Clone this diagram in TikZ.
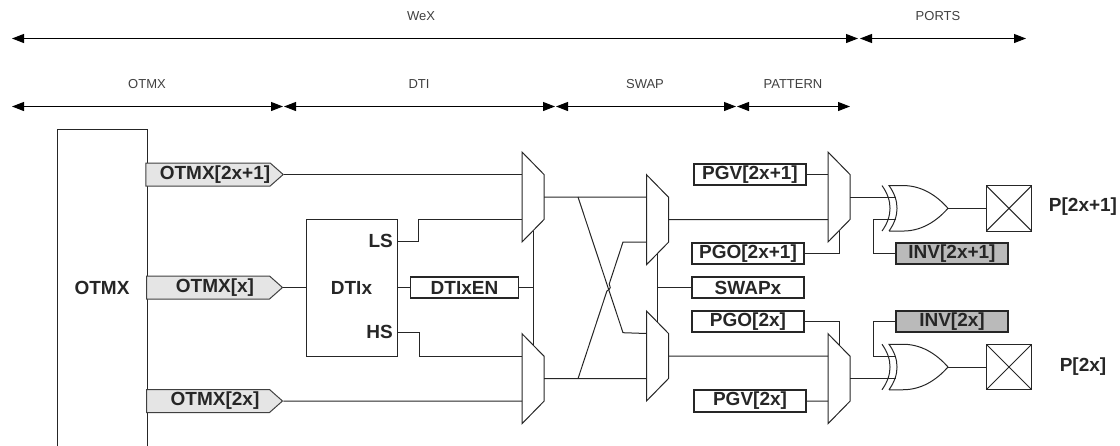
\documentclass[tikz,border=0pt]{standalone}
\usepackage{fontspec}
\setmainfont{Liberation Sans}
\usetikzlibrary{arrows.meta,shapes.symbols}
\tikzset{lbl/.style = {font=\bfseries\fontsize{19}{21}\selectfont, text=black!85, inner sep=0pt},
  toplbl/.style = {font=\fontsize{13}{15}\selectfont, text=black!75, inner sep=0pt},
  span/.style = {<->, >={Triangle[length=12pt,width=9pt]}, line width=1pt},
  wire/.style = {line width=1pt, black!85},
  regbox/.style = {lbl, draw, line width=1.7pt, black!85, rectangle, minimum width=112pt, minimum height=21.5pt},
  invbox/.style = {regbox, fill=black!27},
  flag/.style = {lbl, draw=black!75, line width=1pt, fill=black!10, signal, signal to=east, signal pointer angle=83,
    minimum width=136pt, minimum height=23pt, execute at begin node={\hspace*{14pt}}},
  mux/.style = {rectangle, inner sep=0pt, outer sep=0pt, minimum width=22pt, minimum height=90pt},
  xorgate/.style = {rectangle, inner sep=0pt, outer sep=0pt, minimum width=66pt, minimum height=45.5pt},
  pad/.style = {draw, wire, rectangle, minimum size=45.5pt, inner sep=0pt,
    path picture={\draw[wire] (path picture bounding box.north west) -- (path picture bounding box.south east)
      (path picture bounding box.north east) -- (path picture bounding box.south west);}}}

\begin{document}
\begin{tikzpicture}[x=1pt, y=-1pt]
  \useasboundingbox (0,0) rectangle (1120,445);

  % section spans
  \coordinate (a1) at (12,38.5);  \coordinate (a2) at (858,38.5);
  \coordinate (a3) at (860,38.5); \coordinate (a4) at (1026,38.5);
  \coordinate (b1) at (12,106.5);  \coordinate (b2) at (283,106.5);
  \coordinate (b3) at (284,106.5); \coordinate (b4) at (555,106.5);
  \coordinate (b5) at (556,106.5); \coordinate (b6) at (736,106.5);
  \coordinate (b7) at (737,106.5); \coordinate (b8) at (850,106.5);
  \draw[span] (a1) -- (a2);
  \draw[span] (a3) -- (a4);
  \draw[span] (b1) -- (b2);
  \draw[span] (b3) -- (b4);
  \draw[span] (b5) -- (b6);
  \draw[span] (b7) -- (b8);
  \node[toplbl] (twex) at (421,16) {WeX};
  \node[toplbl] (tports) at (938,16) {PORTS};
  \node[toplbl] (totmx) at (147,84) {OTMX};
  \node[toplbl] (tdti) at (419,84) {DTI};
  \node[toplbl] (tswap) at (645,84) {SWAP};
  \node[toplbl] (tpattern) at (793,84) {PATTERN};

  % blocks
  \node[lbl, draw, wire, rectangle, minimum width=90pt, minimum height=318pt] (otmx) at (102,288) {OTMX};
  \node[flag] (fa) at (208,174.5) {OTMX[2x+1]};
  \node[flag] (fb) at (208,287.5) {OTMX[x]};
  \node[flag] (fc) at (208,401) {OTMX[2x]};
  \node[lbl, draw, wire, rectangle, minimum width=91pt, minimum height=137pt] (dti) at (351.5,287.5) {DTIx};
  \node[lbl, anchor=east] (ls) at (393,241) {LS};
  \node[lbl, anchor=east] (hs) at (393,332) {HS};
  \node[regbox, minimum width=108pt] (dtien) at (464.5,287.5) {DTIxEN};

  \node[mux] (m1) at (533,197) {};
  \node[mux] (m2) at (533,378.7) {};
  \node[mux] (m3) at (657.5,219.7) {};
  \node[mux] (m4) at (657.5,356) {};
  \node[mux] (m5) at (839,197) {};
  \node[mux] (m6) at (839,378.7) {};
  \foreach \m in {m1,m2,m3,m4,m5,m6}
    \draw[wire] (\m.north west) -- ([yshift=-22.5pt]\m.north east) -- ([yshift=22.5pt]\m.south east)
      -- (\m.south west) -- cycle;

  \node[regbox] (pgva) at (750,174.5) {PGV[2x+1]};
  \node[regbox] (pgoa) at (748,253.5) {PGO[2x+1]};
  \node[regbox] (swap) at (748,287.5) {SWAPx};
  \node[regbox] (pgob) at (748,321.5) {PGO[2x]};
  \node[regbox] (pgvb) at (750,401) {PGV[2x]};

  \node[xorgate] (xa) at (915,208.3) {};
  \node[xorgate] (xb) at (915,367) {};
  \foreach \g in {xa,xb}
    \draw[wire] (\g.north west) .. controls +(10.7,15) and +(10.7,-15) .. (\g.south west)
      ([xshift=7pt]\g.south west) -- ([xshift=21pt]\g.south west) .. controls +(22,0) and +(-8,9) .. (\g.east)
      .. controls +(-8,-9) and +(22,0) .. ([xshift=21pt]\g.north west) -- ([xshift=7pt]\g.north west)
      .. controls +(10.7,15) and +(10.7,-15) .. ([xshift=7pt]\g.south west);
  \node[invbox] (inva) at (952,253.5) {INV[2x+1]};
  \node[invbox] (invb) at (952,321.5) {INV[2x]};
  \node[pad] (pa) at (1009,208.3) {};
  \node[pad] (pb) at (1009,367) {};
  \node[lbl] (pta) at (1083,207) {P[2x+1]};
  \node[lbl] (ptb) at (1083,367) {P[2x]};

  % connections
  \draw[wire] (fa.east) -- ([yshift=22.5pt]m1.west);
  \draw[wire] (fb.east) -- (dti.west);
  \draw[wire] (fc.east) -- ([yshift=-22.5pt]m2.west);
  \draw[wire] (dti.east |- ls) -- ++(21,0) |- ([yshift=-22.5pt]m1.west);
  \draw[wire] (dti.east |- hs) -- ++(22,0) |- ([yshift=22.5pt]m2.west);
  \draw[wire] (dti.east) -- (dtien.west);
  \draw[wire] (dtien.east) -- (dtien.east -| m1.south);
  \draw[wire] ([yshift=11pt]m1.south) -- ([yshift=-11pt]m2.north);

  \coordinate (ca) at (578,197);
  \coordinate (cb) at (623,332.7);
  \coordinate (cc) at (578,378.7);
  \coordinate (cd) at (623,242);
  \coordinate (ce) at (606.9,291);
  \coordinate (cf) at (609.2,284);
  \draw[wire] (m1.east) -- ([yshift=22.5pt]m3.west);
  \draw[wire] (m2.east) -- ([yshift=-22.5pt]m4.west);
  \draw[wire] (ca) -- (cb) -- ([yshift=22.5pt]m4.west);
  \draw[wire] (cc) -- (ce) .. controls (611,289) and (611,286) .. (cf) -- (cd) -- ([yshift=-22.5pt]m3.west);
  \draw[wire] ([yshift=11pt]m3.south) -- ([yshift=-11pt]m4.north);
  \draw[wire] (swap.west) -- (swap.west -| m3.south);

  \draw[wire] (m3.east) -- ([yshift=-22.5pt]m5.west);
  \draw[wire] (m4.east) -- ([yshift=22.5pt]m6.west);
  \draw[wire] (pgva.east) -- ([yshift=22.5pt]m5.west);
  \draw[wire] (pgvb.east) -- ([yshift=-22.5pt]m6.west);
  \draw[wire] (pgoa.east) -| ([yshift=11pt]m5.south);
  \draw[wire] (pgob.east) -| ([yshift=-11pt]m6.north);

  \draw[wire] (m5.east) -- ([xshift=13.5pt,yshift=11.3pt]xa.west);
  \draw[wire] (m6.east) -- ([xshift=13.5pt,yshift=-11.7pt]xb.west);
  \draw[wire] (inva.west) -- ++(-22,0) |- ([xshift=13.5pt,yshift=-11.3pt]xa.west);
  \draw[wire] (invb.west) -- ++(-22,0) |- ([xshift=13.5pt,yshift=11pt]xb.west);
  \draw[wire] (xa.east) -- (pa.west);
  \draw[wire] (xb.east) -- (pb.west);
\end{tikzpicture}
\end{document}
